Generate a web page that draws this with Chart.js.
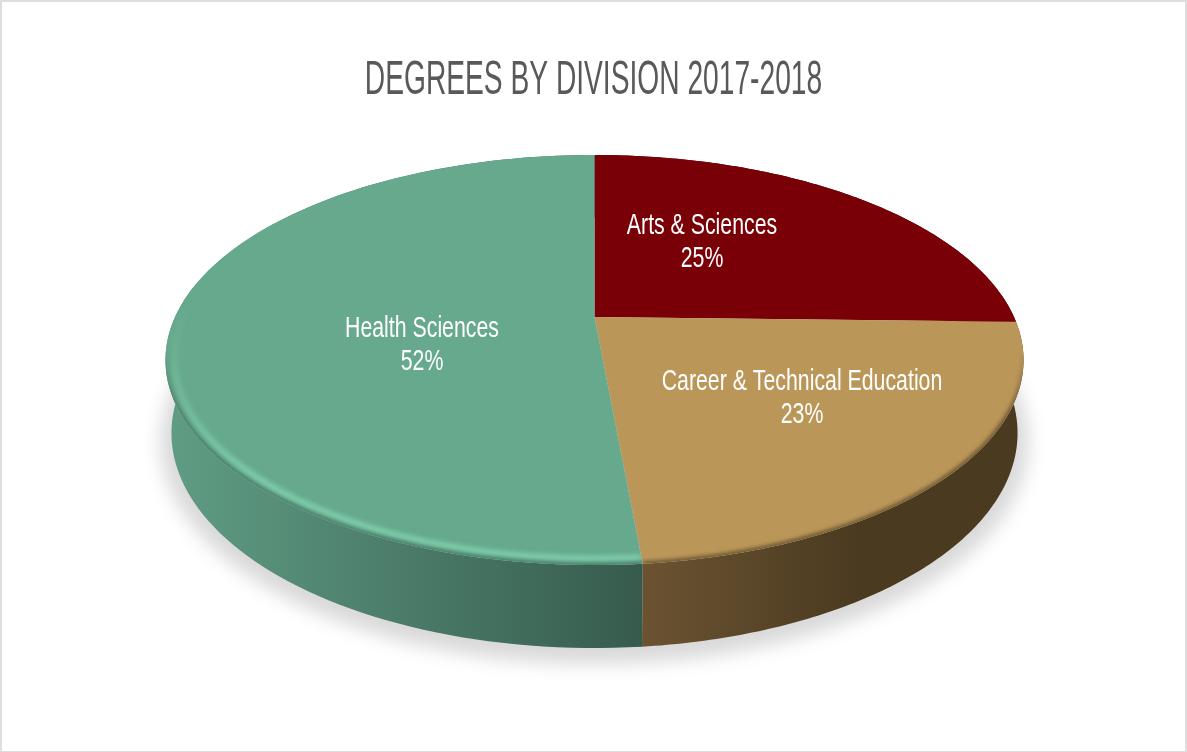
<!DOCTYPE html>
<html>
<head>
<meta charset="utf-8">
<title>Degrees by Division 2017-2018</title>
<script src="https://cdn.jsdelivr.net/npm/chart.js@4/dist/chart.umd.js"></script>
<style>
  html, body { margin: 0; padding: 0; background: #fff; overflow: hidden; }
  #wrap { position: relative; width: 1187px; height: 752px; }
  #frame { position: absolute; left: 0; top: 0; right: 0; bottom: 0; pointer-events: none;
           border-style: solid; border-color: #dedede; border-width: 2px 2px 1px 2px; }
</style>
</head>
<body>
<div id="wrap">
  <canvas id="degrees_cntxt" width="1187" height="752"></canvas>
  <div id="frame"></div>
</div>
<script>
var divisions = ["Arts & Sciences", "Career & Technical Education", "Health Sciences"];
var degreeShares = [25.4, 23.2, 51.5];
var topColors = ["#7a0007", "#bb9659", "#66a98c"];
var wallLeftColors = ["#4a0004", "#6b5332", "#5f9c84"];
var wallRightColors = ["#4a0004", "#4a3a20", "#365b4d"];

// where the text goes on each slice, x and y of the first line
var labelSpots = [[702, 226], [802, 382], [422, 329]];
var labelFont = "30px 'Liberation Sans', sans-serif";
var labelSqueeze = 0.71;   // no condensed face installed, so squeeze the regular one
var titleSqueeze = 0.587;

// the disc is a perspective view of a circle, so the apex sits above the ellipse centre
var cx = 594.5, apexY = 317, discR = 419.5, persp = -0.2098, perspA = 129.5;

function topPoint(angle, s) {
    var u = Math.cos(angle) * s, v = Math.sin(angle) * s;
    var w = 1 + persp * v;
    return { x: cx + discR * u / w, y: (perspA * v + apexY) / w };
}

function bottomPoint(angle) {
    var p = topPoint(angle, 1);
    return { x: cx + (p.x - cx) * 423 / 429, y: 433 + (p.y - 360) * 215 / 205 };
}

function traceArc(ctx, from, to, s, moveFirst) {
    var steps = 120;
    for (var i = 0; i <= steps; i++) {
        var p = topPoint(from + (to - from) * i / steps, s);
        if (i === 0 && moveFirst) ctx.moveTo(p.x, p.y); else ctx.lineTo(p.x, p.y);
    }
}

function traceSlice(ctx, arc) {
    ctx.beginPath();
    ctx.moveTo(cx, apexY);
    traceArc(ctx, arc.startAngle, arc.endAngle, 1, false);
    ctx.closePath();
}

// slices are still laid out by the pie controller, only their shape changes
Chart.ArcElement.prototype.draw = function (ctx) {
    ctx.save();
    traceSlice(ctx, this);
    ctx.fillStyle = this.options.backgroundColor;
    ctx.fill();
    ctx.clip();

    var green = this.options.backgroundColor === topColors[2];
    var tan = this.options.backgroundColor === topColors[1];
    if (green) {
        var glow = ctx.createLinearGradient(0, 300, 0, 480);
        glow.addColorStop(0, "rgba(126,200,170,0)");
        glow.addColorStop(1, "rgba(128,208,175,1)");
        ctx.filter = "blur(2.5px)";
        ctx.strokeStyle = glow;
        ctx.lineWidth = 6;
        ctx.beginPath();
        traceArc(ctx, this.startAngle, this.endAngle, 0.98, true);
        ctx.stroke();
    }
    if (green || tan) {
        // soft dark edge where the face turns into the wall
        var edge = ctx.createLinearGradient(0, 350, 0, 420);
        edge.addColorStop(0, "rgba(60,50,30,0)");
        edge.addColorStop(1, green ? "rgba(50,90,75,0.7)" : "rgba(70,55,30,0.85)");
        ctx.filter = "blur(2px)";
        ctx.strokeStyle = edge;
        ctx.lineWidth = 4;
        ctx.beginPath();
        traceArc(ctx, this.startAngle, this.endAngle, 1, true);
        ctx.stroke();
    }
    ctx.restore();
};

var pie3d = {
    id: "pie3d",
    beforeDatasetsDraw: function (chart) {
        var ctx = chart.ctx, arcs = chart.getDatasetMeta(0).data;

        ctx.save();
        ctx.filter = "blur(9px)";
        ctx.fillStyle = "rgba(0,0,0,0.15)";
        ctx.beginPath();
        ctx.ellipse(cx, 442, 434, 222, 0, 0, Math.PI * 2);
        ctx.fill();
        ctx.restore();

        arcs.forEach(function (arc, i) {
            var steps = 120, k;
            ctx.beginPath();
            traceArc(ctx, arc.startAngle, arc.endAngle, 1, true);
            for (k = steps; k >= 0; k--) {
                var p = bottomPoint(arc.startAngle + (arc.endAngle - arc.startAngle) * k / steps);
                ctx.lineTo(p.x, p.y);
            }
            ctx.closePath();
            var xs = i === 2 ? [172, 642] : [642, 860];
            var side = ctx.createLinearGradient(xs[0], 0, xs[1], 0);
            side.addColorStop(0, wallLeftColors[i]);
            side.addColorStop(1, wallRightColors[i]);
            ctx.fillStyle = side;
            ctx.fill();
        });
    },
    afterDatasetsDraw: function (chart) {
        var ctx = chart.ctx;
        ctx.save();
        ctx.fillStyle = "#fff";
        ctx.font = labelFont;
        ctx.textAlign = "center";
        ctx.textBaseline = "middle";
        divisions.forEach(function (name, i) {
            ctx.save();
            ctx.translate(labelSpots[i][0], labelSpots[i][1]);
            ctx.scale(labelSqueeze, 1);
            ctx.fillText(name, 0, 0);
            ctx.fillText(Math.round(degreeShares[i]) + "%", 0, 33);
            ctx.restore();
        });
        ctx.restore();
    }
};

var current_cntxt = document.getElementById("degrees_cntxt").getContext("2d");
var degrees_chart = new Chart(current_cntxt, {
    type: "pie",
    data: {
        labels: divisions,
        datasets: [{
            data: degreeShares,
            backgroundColor: topColors,
            borderWidth: 0
        }]
    },
    options: {
        responsive: false,
        animation: false,
        plugins: {
            legend: { display: false },
            tooltip: { enabled: false },
            title: {
                display: true,
                text: "DEGREES BY DIVISION 2017-2018",
                color: "#58595b",
                font: { family: "'Liberation Sans', sans-serif", size: 48, weight: "normal" },
                padding: { top: 52, bottom: 10 }
            }
        }
    },
    plugins: [pie3d]
});

// narrow the title the same way as the labels
var titleBox = degrees_chart.titleBlock, drawTitle = titleBox.draw;
titleBox.draw = function () {
    var ctx = degrees_chart.ctx;
    ctx.save();
    ctx.translate(593.5, 0);
    ctx.scale(titleSqueeze, 1);
    ctx.translate(-593.5, 0);
    drawTitle.call(titleBox);
    ctx.restore();
};
degrees_chart.draw();
</script>
</body>
</html>
